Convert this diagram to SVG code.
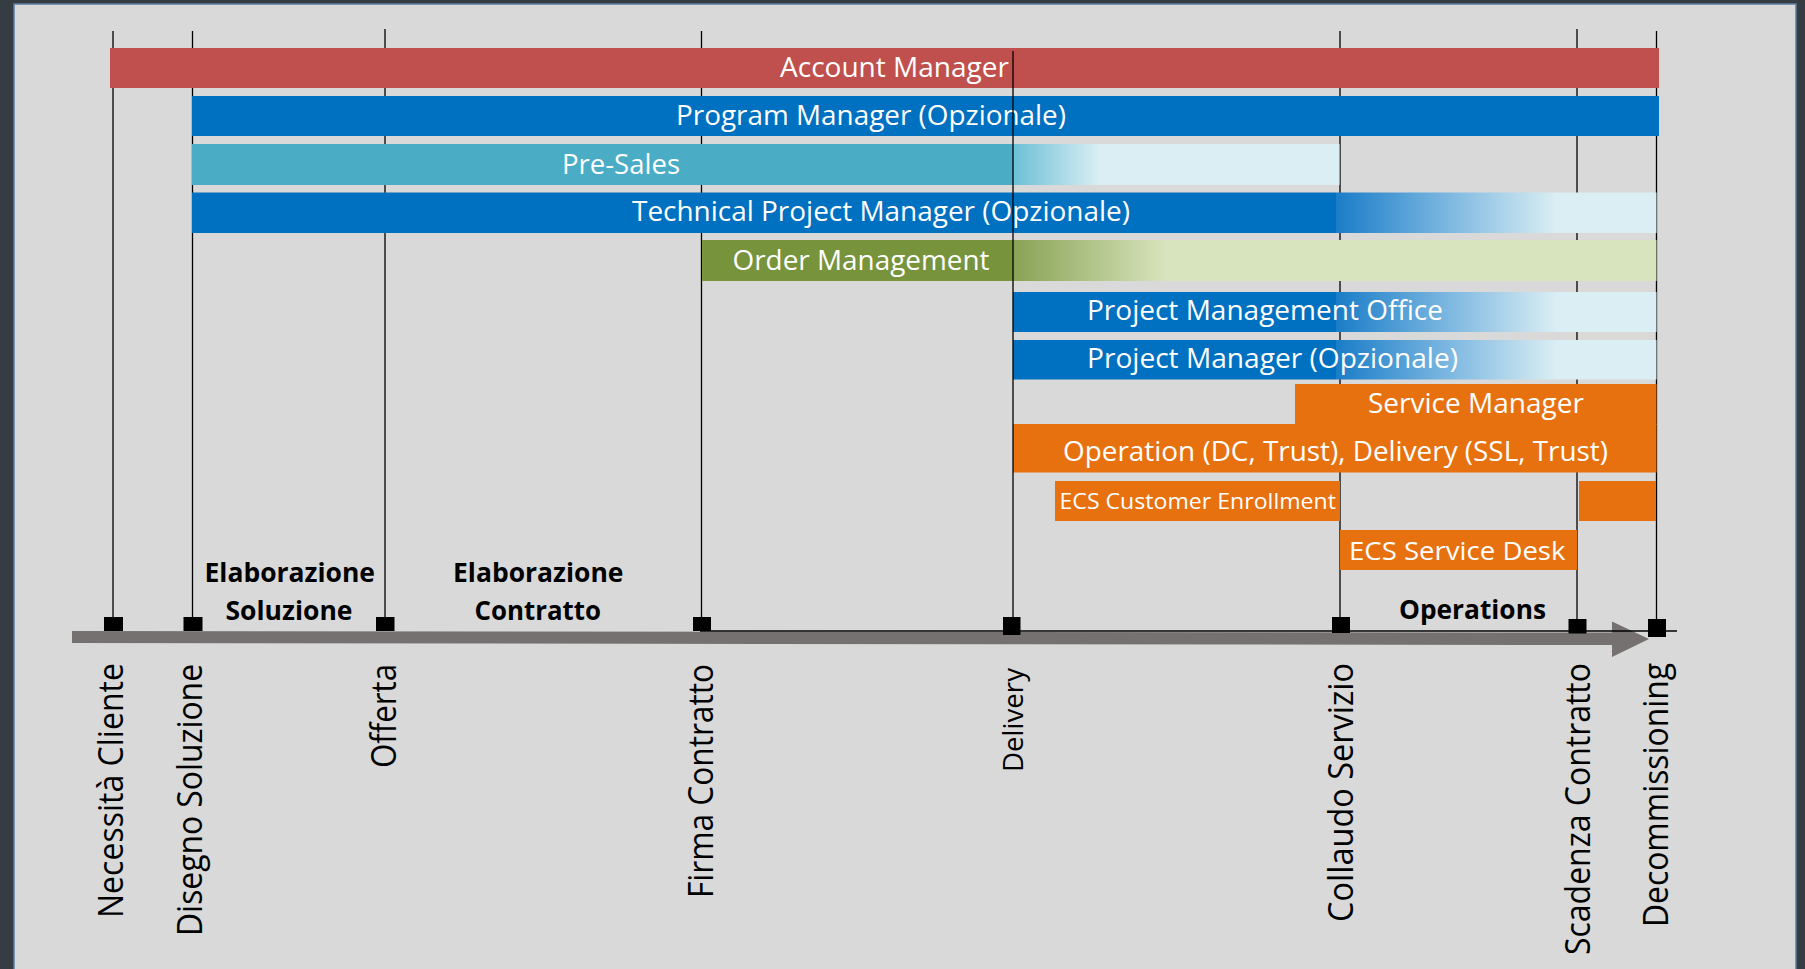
<svg xmlns="http://www.w3.org/2000/svg" width="1805" height="969" viewBox="0 0 1805 969">
<style>
.bl{font-family:"Open Sans","Liberation Sans",sans-serif;font-size:27px;fill:#ffffff}
.ph{font-family:"Open Sans","Liberation Sans",sans-serif;font-size:27px;font-weight:bold;fill:#000000}
.vl{font-family:"Open Sans","Liberation Sans",sans-serif;font-size:34px;fill:#000000}
.gl{stroke:#000000;stroke-width:1.3;fill:none}
.sq{fill:#000000}
</style>
<defs>
<linearGradient id="gPre" gradientUnits="userSpaceOnUse" x1="1013" y1="0" x2="1100" y2="0">
<stop offset="0" stop-color="#6cc0d6"/><stop offset="1" stop-color="#daeef3"/></linearGradient>
<linearGradient id="gBlue" gradientUnits="userSpaceOnUse" x1="1336" y1="0" x2="1556" y2="0">
<stop offset="0" stop-color="#1a7dc8"/><stop offset="0.5" stop-color="#7ab6e0"/><stop offset="1" stop-color="#daeef3"/></linearGradient>
<linearGradient id="gOrd" gradientUnits="userSpaceOnUse" x1="1013" y1="0" x2="1166" y2="0">
<stop offset="0" stop-color="#88a254"/><stop offset="1" stop-color="#d7e4bd"/></linearGradient>
</defs>
<rect x="0" y="0" width="1805" height="969" fill="#353d42"/>
<rect x="14" y="4" width="1782" height="975" fill="#d9d9d9" stroke="#5b7ea3" stroke-width="1.5"/>
<g id="guides">
<line class="gl" x1="113" y1="31" x2="113" y2="620"/>
<line class="gl" x1="192.5" y1="31" x2="192.5" y2="620"/>
<line class="gl" x1="385" y1="29" x2="385" y2="620"/>
<line class="gl" x1="701.5" y1="31" x2="701.5" y2="620"/>
<line class="gl" x1="1340" y1="31" x2="1340" y2="620"/>
<line class="gl" x1="1577" y1="29" x2="1577" y2="622"/>
<line class="gl" x1="1656.5" y1="31" x2="1656.5" y2="622"/>
</g>
<g id="account-manager">
<rect x="110" y="48" width="1549" height="40" fill="#c0504d"/>
<text class="bl" x="780" y="77" textLength="229" lengthAdjust="spacingAndGlyphs">Account Manager</text>
</g>
<g id="program-manager">
<rect x="192" y="96" width="1467" height="40" fill="#0070c0"/>
<text class="bl" x="676" y="125" textLength="390" lengthAdjust="spacingAndGlyphs">Program Manager (Opzionale)</text>
</g>
<g id="pre-sales">
<rect x="192" y="144" width="821" height="41" fill="#4bacc6"/>
<rect x="1013" y="144" width="87" height="41" fill="url(#gPre)"/>
<rect x="1099.5" y="144" width="240" height="41" fill="#daeef3"/>
<text class="bl" x="562" y="174" textLength="118" lengthAdjust="spacingAndGlyphs">Pre-Sales</text>
</g>
<g id="technical-pm">
<rect x="192" y="192.5" width="1144" height="40.5" fill="#0070c0"/>
<rect x="1336" y="192.5" width="220" height="40.5" fill="url(#gBlue)"/>
<rect x="1555.5" y="192.5" width="101" height="40.5" fill="#daeef3"/>
<text class="bl" x="632" y="221" textLength="498" lengthAdjust="spacingAndGlyphs">Technical Project Manager (Opzionale)</text>
</g>
<g id="order-management">
<rect x="702" y="240" width="311" height="41" fill="#77933c"/>
<rect x="1013" y="240" width="153" height="41" fill="url(#gOrd)"/>
<rect x="1165.5" y="240" width="491" height="41" fill="#d7e4bd"/>
<text class="bl" x="732.5" y="270" textLength="257" lengthAdjust="spacingAndGlyphs">Order Management</text>
</g>
<g id="pmo">
<rect x="1013" y="292" width="323" height="40" fill="#0070c0"/>
<rect x="1336" y="292" width="220" height="40" fill="url(#gBlue)"/>
<rect x="1555.5" y="292" width="101" height="40" fill="#daeef3"/>
<text class="bl" x="1087" y="320" textLength="356" lengthAdjust="spacingAndGlyphs">Project Management Office</text>
</g>
<g id="project-manager">
<rect x="1013" y="340" width="323" height="39.5" fill="#0070c0"/>
<rect x="1336" y="340" width="220" height="39.5" fill="url(#gBlue)"/>
<rect x="1555.5" y="340" width="101" height="39.5" fill="#daeef3"/>
<text class="bl" x="1087" y="368" textLength="371" lengthAdjust="spacingAndGlyphs">Project Manager (Opzionale)</text>
</g>
<g id="service-manager">
<rect x="1295" y="384" width="361.5" height="41" fill="#e8710f"/>
<text class="bl" x="1368" y="413" textLength="216" lengthAdjust="spacingAndGlyphs">Service Manager</text>
</g>
<g id="operation">
<rect x="1013" y="424" width="643.5" height="48.5" fill="#e8710f"/>
<text class="bl" x="1063" y="461" textLength="545" lengthAdjust="spacingAndGlyphs">Operation (DC, Trust), Delivery (SSL, Trust)</text>
</g>
<g id="ecs-customer-enrollment">
<rect x="1055" y="481" width="285" height="40" fill="#e8710f"/>
<text class="bl" style="font-size:22px" x="1059.5" y="509" textLength="276.5" lengthAdjust="spacingAndGlyphs">ECS Customer Enrollment</text>
</g>
<g id="ecs-end">
<rect x="1579" y="481" width="77" height="40" fill="#e8710f"/>
</g>
<g id="ecs-service-desk">
<rect x="1340" y="530" width="237" height="40" fill="#e8710f"/>
<text class="bl" style="font-size:26px" x="1349" y="560" textLength="216.5" lengthAdjust="spacingAndGlyphs">ECS Service Desk</text>
</g>
<g id="connectors">
<line class="gl" x1="1013" y1="51" x2="1013" y2="640"/>
<polygon points="72,631 1612,632.5 1612,621.5 1649,639 1612,657 1612,645 72,643" fill="#757171"/>
<line x1="700" y1="631" x2="1677" y2="631" stroke="#000000" stroke-width="1.5"/>
<rect class="sq" x="104" y="617" width="19" height="14"/>
<rect class="sq" x="183.5" y="617" width="19" height="14"/>
<rect class="sq" x="376" y="617" width="18.5" height="14"/>
<rect class="sq" x="693" y="617" width="18" height="14"/>
<rect class="sq" x="1003" y="617" width="17.5" height="18"/>
<rect class="sq" x="1332" y="617" width="18" height="16"/>
<rect class="sq" x="1568.5" y="619" width="18" height="14.5"/>
<rect class="sq" x="1648" y="619" width="18" height="18"/>
</g>
<g id="phase-labels">
<text class="ph" x="204.5" y="581.5" textLength="170.5" lengthAdjust="spacingAndGlyphs">Elaborazione</text>
<text class="ph" x="225.5" y="620" textLength="127" lengthAdjust="spacingAndGlyphs">Soluzione</text>
<text class="ph" x="453" y="581.5" textLength="170.5" lengthAdjust="spacingAndGlyphs">Elaborazione</text>
<text class="ph" x="474.5" y="620" textLength="126.5" lengthAdjust="spacingAndGlyphs">Contratto</text>
<text class="ph" x="1399" y="619" textLength="147" lengthAdjust="spacingAndGlyphs">Operations</text>
</g>
<g id="milestones">
<text class="vl" transform="translate(123,918) rotate(-90)" textLength="255" lengthAdjust="spacingAndGlyphs">Necessità Cliente</text>
<text class="vl" transform="translate(202,936) rotate(-90)" textLength="272" lengthAdjust="spacingAndGlyphs">Disegno Soluzione</text>
<text class="vl" transform="translate(396,768) rotate(-90)" textLength="104" lengthAdjust="spacingAndGlyphs">Offerta</text>
<text class="vl" transform="translate(713,898) rotate(-90)" textLength="234" lengthAdjust="spacingAndGlyphs">Firma Contratto</text>
<text class="vl" style="font-size:28px" transform="translate(1023,772) rotate(-90)" textLength="104" lengthAdjust="spacingAndGlyphs">Delivery</text>
<text class="vl" transform="translate(1353,922) rotate(-90)" textLength="259" lengthAdjust="spacingAndGlyphs">Collaudo Servizio</text>
<text class="vl" transform="translate(1590,955) rotate(-90)" textLength="292" lengthAdjust="spacingAndGlyphs">Scadenza Contratto</text>
<text class="vl" transform="translate(1668,927) rotate(-90)" textLength="264" lengthAdjust="spacingAndGlyphs">Decommissioning</text>
</g>
</svg>
